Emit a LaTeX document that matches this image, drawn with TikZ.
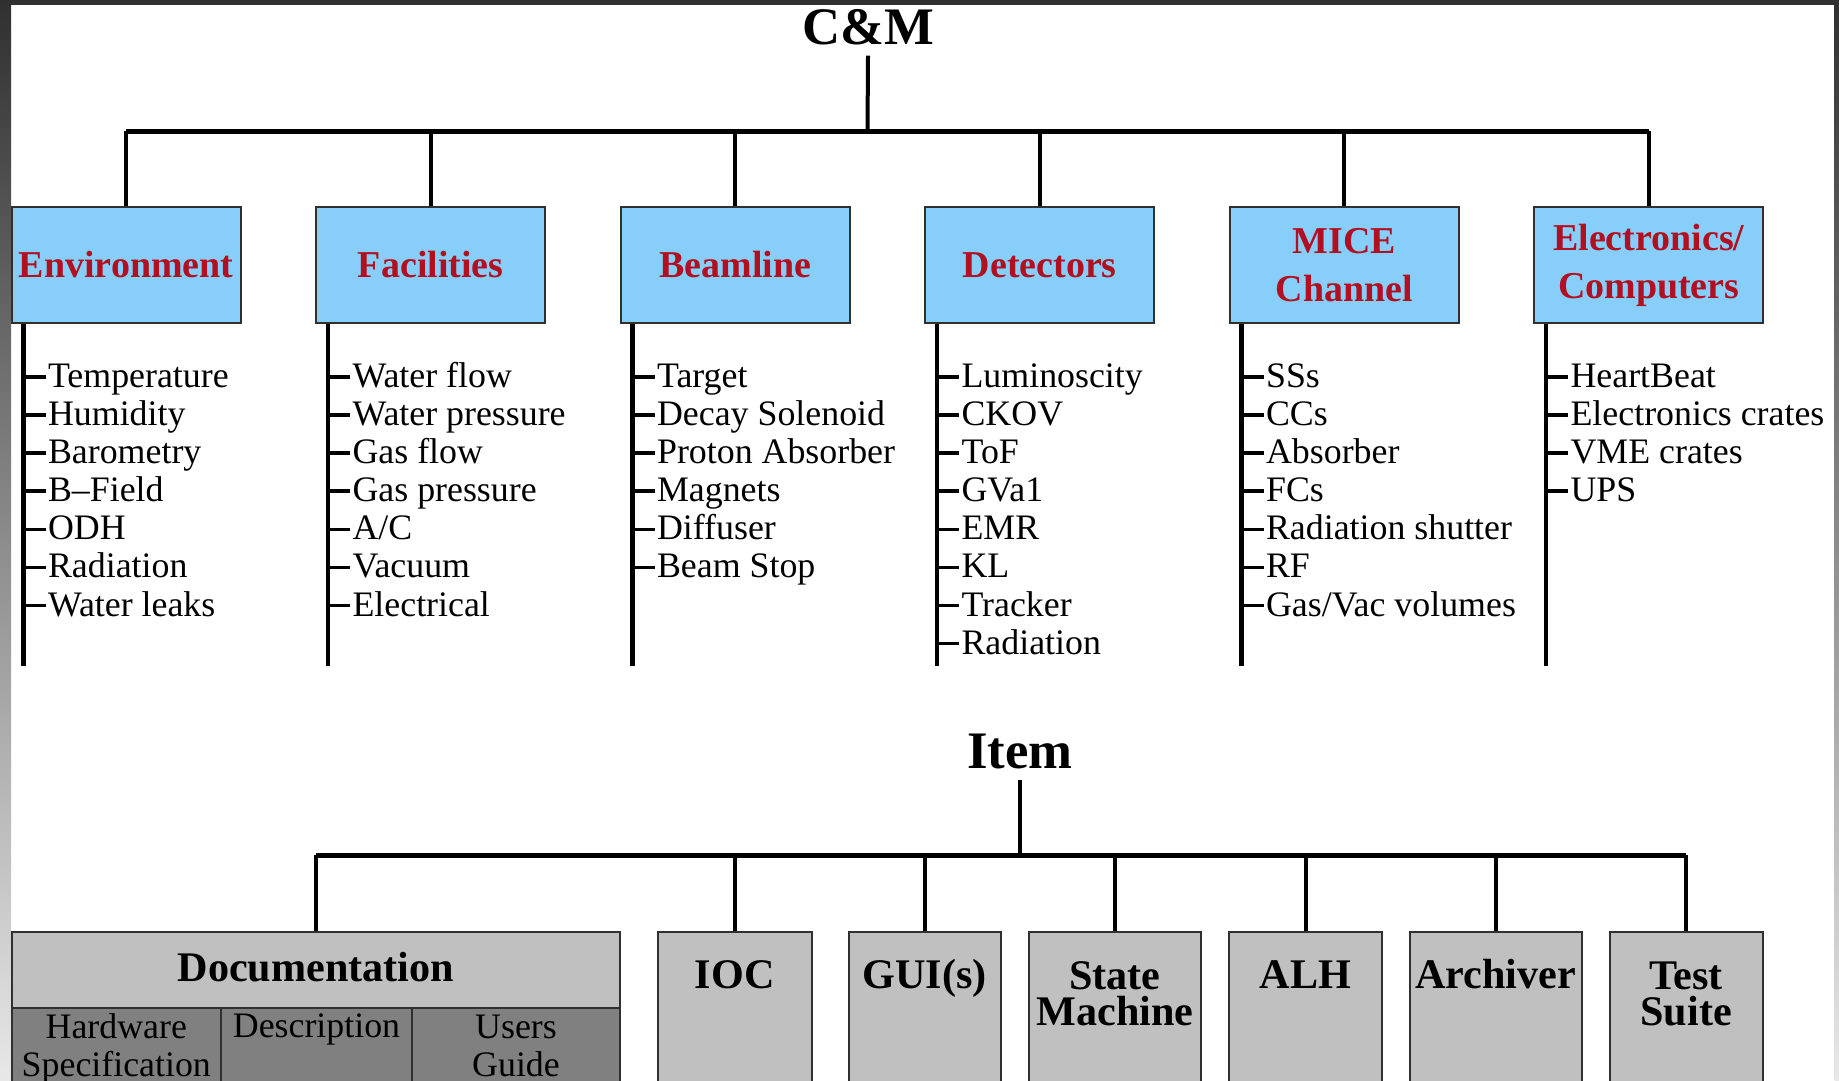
\documentclass[tikz,border=0pt]{standalone}
\usepackage{fontspec}
\setmainfont{Liberation Serif}
\definecolor{boxblue}{RGB}{135,206,250}
\definecolor{boxred}{RGB}{176,16,32}
\definecolor{boxgray}{RGB}{192,192,192}
\definecolor{cellgray}{RGB}{128,128,128}
\definecolor{framedark}{RGB}{48,48,48}
\definecolor{framelight}{RGB}{232,232,232}

\begin{document}
\begin{tikzpicture}[x=1cm,y=-1cm,
  head/.style={font=\fontsize{15}{15}\selectfont\bfseries,inner sep=0pt,inner ysep=1mm,anchor=base},
  sys/.style={draw=framedark,line width=0.2mm,fill=boxblue,text=boxred,inner xsep=0.5mm,minimum width=2.29cm,minimum height=1.16cm,align=center,font=\fontsize{10.8}{13.7}\selectfont\bfseries},
  item/.style={anchor=base west,inner xsep=0.5pt,inner ysep=0pt,text height=0.75em,text depth=0.15em,font=\fontsize{10.2}{10.2}\selectfont},
  part/.style={draw=framedark,line width=0.2mm,fill=boxgray,anchor=north,inner sep=0pt,text height=0.57cm,text depth=1.4cm,align=center,font=\fontsize{12}{10.4}\selectfont\bfseries},
  twopart/.style={part,text height=0.937cm,text depth=1.0cm},
  cell/.style={draw=framedark,line width=0.2mm,fill=cellgray,anchor=north,inner sep=0pt,text height=0.30cm,text depth=0.6cm,align=center,font=\fontsize{10.2}{10.8}\selectfont},
  twocell/.style={cell,text height=0.681cm,text depth=0.25cm},
  stem/.style={line width=0.45mm},
  tick/.style={line width=0.35mm},
  bus/.style={line width=0.5mm},
  drop/.style={line width=0.4mm}]
\useasboundingbox (0,0) rectangle (18.39,10.81);
\clip (0,0) rectangle (18.39,10.81);
% frame
\fill[white] (0,0) rectangle (18.39,10.81);
\shade[top color=framedark,bottom color=framelight] (0,0) rectangle (0.112,10.81);
\shade[top color=framedark,bottom color=framelight] (18.345,0) rectangle (18.39,10.81);
\fill[framedark] (0,0) rectangle (18.39,0.05);

% C&M tree
\node[head] (cm) at (8.68,0.445) {C\&M};
\coordinate (cmj) at (8.675,1.315);
\node[sys] (env)  at (1.262,2.65)  {Environment};
\node[sys] (fac)  at (4.307,2.65)  {Facilities};
\node[sys] (beam) at (7.352,2.65)  {Beamline};
\node[sys] (det)  at (10.397,2.65) {Detectors};
\node[sys] (mice) at (13.442,2.65) {MICE\\Channel};
\node[sys] (elec) at (16.487,2.65) {Electronics/\\Computers};
\draw[drop] (cm.south) -- (cmj);
\draw[bus] (env.north |- cmj) -- (elec.north |- cmj);
\foreach \b in {env,fac,beam,det,mice,elec}
  \draw[drop] (cmj -| \b.north) -- (\b.north);

% lists
\draw[stem] ([xshift=1.3mm]env.south west) -- ++(0,3.42) coordinate (envl);
\foreach \t [count=\k] in {Temperature,Humidity,Barometry,B–Field,ODH,Radiation,Water leaks}{
  \node[item] (env\k) at (0.456,{3.875+0.381*(\k-1)}) {\t};
  \draw[tick] (env\k.west -| envl) -- (env\k.west);
}
\draw[stem] ([xshift=1.3mm]fac.south west) -- ++(0,3.42) coordinate (facl);
\foreach \t [count=\k] in {Water flow,Water pressure,Gas flow,Gas pressure,A/C,Vacuum,Electrical}{
  \node[item] (fac\k) at (3.501,{3.875+0.381*(\k-1)}) {\t};
  \draw[tick] (fac\k.west -| facl) -- (fac\k.west);
}
\draw[stem] ([xshift=1.3mm]beam.south west) -- ++(0,3.42) coordinate (beaml);
\foreach \t [count=\k] in {Target,Decay Solenoid,Proton Absorber,Magnets,Diffuser,Beam Stop}{
  \node[item] (beam\k) at (6.546,{3.875+0.381*(\k-1)}) {\t};
  \draw[tick] (beam\k.west -| beaml) -- (beam\k.west);
}
\draw[stem] ([xshift=1.3mm]det.south west) -- ++(0,3.42) coordinate (detl);
\foreach \t [count=\k] in {Luminoscity,CKOV,ToF,GVa1,EMR,KL,Tracker,Radiation}{
  \node[item] (det\k) at (9.591,{3.875+0.381*(\k-1)}) {\t};
  \draw[tick] (det\k.west -| detl) -- (det\k.west);
}
\draw[stem] ([xshift=1.3mm]mice.south west) -- ++(0,3.42) coordinate (micel);
\foreach \t [count=\k] in {SSs,CCs,Absorber,FCs,Radiation shutter,RF,Gas/Vac volumes}{
  \node[item] (mice\k) at (12.636,{3.875+0.381*(\k-1)}) {\t};
  \draw[tick] (mice\k.west -| micel) -- (mice\k.west);
}
\draw[stem] ([xshift=1.3mm]elec.south west) -- ++(0,3.42) coordinate (elecl);
\foreach \t [count=\k] in {HeartBeat,Electronics crates,VME crates,UPS}{
  \node[item] (elec\k) at (15.681,{3.875+0.381*(\k-1)}) {\t};
  \draw[tick] (elec\k.west -| elecl) -- (elec\k.west);
}

% Item tree
\node[head] (item) at (10.20,7.69) {Item};
\coordinate (itemj) at (10.20,8.555);
\node[part,minimum width=6.083cm,text height=0.50cm,text depth=0.26cm] (doc) at (3.159,9.31) {Documentation};
\node[twocell,minimum width=2.093cm] (hw)   at (1.163,10.07) {Hardware\\Specification};
\node[cell,minimum width=1.91cm]     (desc) at (3.165,10.07) {Description};
\node[twocell,minimum width=2.08cm]  (ug)   at (5.16,10.07)  {Users\\Guide};
\node[part,minimum width=1.535cm]    (ioc)  at (7.348,9.31)  {IOC};
\node[part,minimum width=1.516cm]    (gui)  at (9.248,9.31)  {GUI(s)};
\node[twopart,minimum width=1.717cm] (sm)   at (11.149,9.31) {State\\Machine};
\node[part,minimum width=1.522cm]    (alh)  at (13.055,9.31) {ALH};
\node[part,minimum width=1.719cm]    (arch) at (14.956,9.31) {Archiver};
\node[twopart,minimum width=1.528cm] (ts)   at (16.861,9.31) {Test\\Suite};
\draw[drop] (item.south) -- (itemj);
\draw[bus] (doc.north |- itemj) -- (ts.north |- itemj);
\foreach \b in {doc,ioc,gui,sm,alh,arch,ts}
  \draw[drop] (itemj -| \b.north) -- (\b.north);
\end{tikzpicture}
\end{document}
